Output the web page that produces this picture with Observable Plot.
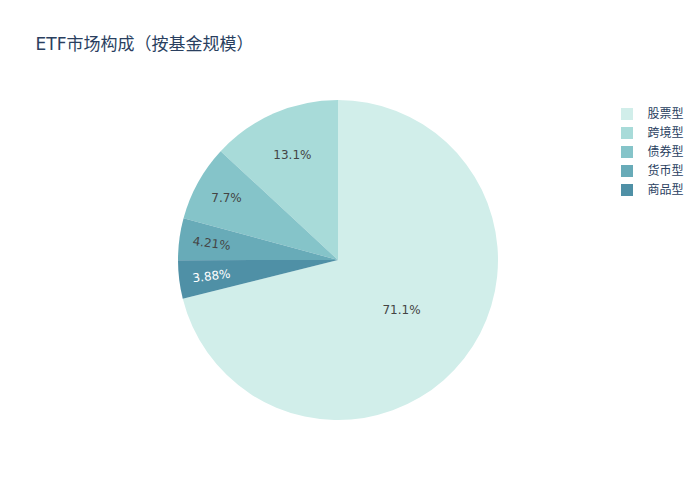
<!DOCTYPE html>
<html>
<head>
<meta charset="utf-8">
<script src="https://cdn.jsdelivr.net/npm/d3@7"></script>
<script src="https://cdn.jsdelivr.net/npm/@observablehq/plot@0.6"></script>
<style>
  body { margin: 0; background: #fff; }
  #chart svg { display: block; }
</style>
</head>
<body>
<div id="chart"></div>
<script>
// ---- data ----
const title = "ETF市场构成（按基金规模）";
const categories = ["股票型", "跨境型", "债券型", "货币型", "商品型"];
const shares = [71.1, 13.1, 7.7, 4.21, 3.88];
const colors = ["#d1eeea", "#a8dbd9", "#85c4c9", "#68abb8", "#4f90a6"];

// ---- layout ----
const W = 700, H = 500;
const CX = 338, CY = 260, R = 160;
const FONT = '"DejaVu Sans", "Noto Sans CJK SC", sans-serif';

const rows = categories.map((c, i) => ({category: c, share: shares[i], color: colors[i]}));
const total = d3.sum(shares);
const fmt = d3.format(".3~r");

// pie: counter-clockwise, the first slice ends at 12 o'clock
const start = 2 * Math.PI * shares[0] / total;
const arcs = d3.pie().value(d => d.share).sort(null)
  .startAngle(start).endAngle(start - 2 * Math.PI)(rows);

// label placement
const labelData = arcs.map(a => {
  const p = a.data.share / total;
  const mid = (a.startAngle + a.endAngle) / 2;
  const rf = p > 0.5 ? 0.5 : p > 0.1 ? 0.72 : 0.8;
  const dx = Math.sin(mid), dy = -Math.cos(mid);
  let rot = 0;
  if (p < 0.05) {
    rot = Math.atan2(dy, dx) * 180 / Math.PI;
    if (rot > 90) rot -= 180;
    if (rot < -90) rot += 180;
  }
  const dark = d3.hsl(a.data.color).l < 0.5;
  return {
    text: fmt(a.data.share) + "%",
    px: CX + R * rf * dx,
    py: CY + R * rf * dy,
    rot,
    fill: dark ? "#ffffff" : "#444444"
  };
});

function pieMark(index, scales, values, dimensions, context) {
  const sx = scales && typeof scales.x === "function" ? scales.x : (v => v);
  const sy = scales && typeof scales.y === "function" ? scales.y : (v => v);
  const arc = d3.arc().innerRadius(0).outerRadius(R);
  const g = d3.create("svg:g").attr("transform", `translate(${sx(CX)},${sy(CY)})`);
  g.selectAll("path").data(arcs).join("path")
    .attr("d", arc)
    .attr("fill", d => d.data.color)
    .attr("stroke", "none");
  return g.node();
}

const chart = Plot.plot({
  width: W,
  height: H,
  margin: 0,
  x: {domain: [0, W], range: [0, W], axis: null},
  y: {domain: [0, H], range: [0, H], axis: null},
  style: {fontFamily: FONT, background: "#fff", overflow: "visible"},
  marks: [
    pieMark,
    Plot.text(labelData, {
      x: "px", y: "py", text: "text", rotate: "rot",
      fill: d => d.fill, fontSize: 12
    }),
    Plot.text([title], {
      x: () => 35, y: () => 44, text: d => d,
      textAnchor: "start", fontSize: 17, fill: "#2a3f5f"
    }),
    Plot.rect(rows, {
      x1: () => 621, x2: () => 633,
      y1: (d, i) => 108 + i * 19, y2: (d, i) => 120 + i * 19,
      fill: d => d.color
    }),
    Plot.text(rows, {
      x: () => 647, y: (d, i) => 114 + i * 19, text: "category",
      textAnchor: "start", fontSize: 12, fill: "#2a3f5f"
    })
  ]
});

document.getElementById("chart").appendChild(chart);
</script>
</body>
</html>
